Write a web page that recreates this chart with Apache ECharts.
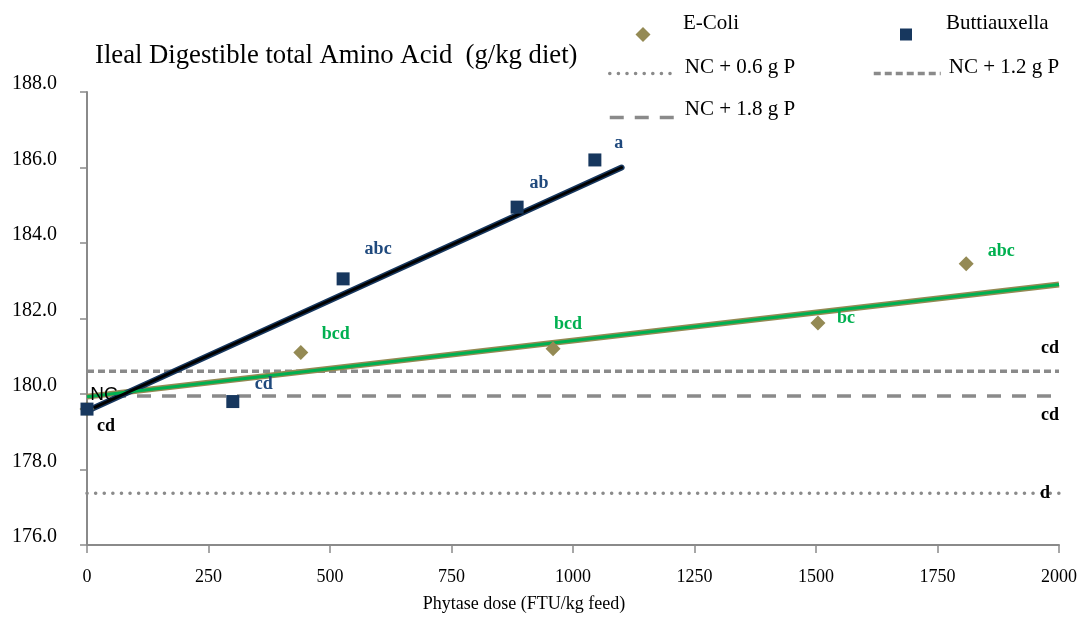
<!DOCTYPE html>
<html>
<head>
<meta charset="utf-8">
<script src="https://cdn.jsdelivr.net/npm/echarts@6/dist/echarts.min.js"></script>
<style>
  html, body { margin: 0; padding: 0; background: #fff; }
  #chart { width: 1083px; height: 617px; }
</style>
</head>
<body>
<div id="chart"></div>
<script>
// scatter points
const buttDose = [0, 300, 527, 885, 1045];
const buttValues = [179.6, 179.8, 183.05, 184.95, 186.2];
const buttLetters = ['cd', 'cd', 'abc', 'ab', 'a'];

const ecoliDose = [0, 440, 959, 1504, 1809];
const ecoliValues = [179.6, 181.1, 181.2, 181.88, 183.45];
const ecoliLetters = ['NC', 'bcd', 'bcd', 'bc', 'abc'];

// linear trend lines, start/end
const buttTrendDose = [0, 1100];
const buttTrendValues = [179.55, 186.0];
const ecoliTrendDose = [0, 2000];
const ecoliTrendValues = [179.93, 182.9];

// positive control reference levels
const refNames = ['NC + 0.6 g P', 'NC + 1.2 g P', 'NC + 1.8 g P'];
const refDose = [0, 2000];
const refValues = [177.37, 180.6, 179.95];
const refLetters = ['d', 'cd', 'cd'];

// label placement (pixels, relative to the point)
const buttLabelOffset = [[19, 17], [31, -17], [35, -30], [22, -24], [24, -17]];
const ecoliLabelOffset = [[17, -14], [35, -18], [15, -24], [28, -5], [35, -12]];
const refLabelOffset = [[-14, 0], [-9, -23], [-9, 19]];
const refDash = [[0.1, 8.5], [7, 4], [14, 11]];

const SERIF = 'Liberation Serif';
const NAVY = '#17375e';
const OLIVE = '#948a54';
const GREEN = '#00b050';
const GREY = '#8a8a8a';

function pairs(xs, ys) {
    return xs.map((x, i) => [x, ys[i]]);
}

const letterStyle = {
    show: true,
    position: 'inside',
    align: 'center',
    verticalAlign: 'middle',
    fontFamily: SERIF,
    fontWeight: 'bold',
    fontSize: 18,
};

let buttData = buttDose.map((x, i) => ({
    value: [x, buttValues[i]],
    label: Object.assign({}, letterStyle, {
        formatter: buttLetters[i],
        offset: buttLabelOffset[i],
        color: i === 0 ? '#000' : '#1f497d',
    }),
}));

let ecoliData = ecoliDose.map((x, i) => ({
    value: [x, ecoliValues[i]],
    label: Object.assign({}, letterStyle, {
        formatter: ecoliLetters[i],
        offset: ecoliLabelOffset[i],
        color: i === 0 ? '#000' : GREEN,
    }, i === 0 ? {fontFamily: 'Liberation Sans', fontWeight: 'normal', fontSize: 19} : {}),
}));

let refSeries = refNames.map((name, i) => ({
    name: name,
    type: 'line',
    data: pairs(refDose, [refValues[i], refValues[i]]),
    symbol: 'none',
    z: 1,
    lineStyle: {
        color: GREY,
        width: 3.5,
        type: refDash[i],
        cap: i === 0 ? 'round' : 'butt',
    },
    endLabel: {
        show: true,
        formatter: refLetters[i],
        distance: 0,
        align: 'center',
        verticalAlign: 'middle',
        offset: refLabelOffset[i],
        color: '#000',
        fontFamily: SERIF,
        fontWeight: 'bold',
        fontSize: 18,
    },
}));

// one legend per entry; text sits a little above its icon like in Excel
function legendAt(item, left, top, w, h, shift, padLeft) {
    return {
        data: [item],
        left: left,
        top: top,
        padding: 0,
        itemWidth: w,
        itemHeight: h,
        formatter: '{t|{name}}',
        textStyle: {
            color: '#000',
            rich: {
                t: {
                    fontFamily: SERIF,
                    fontSize: 21,
                    color: '#000',
                    padding: [0, 0, shift * 2, padLeft],
                },
            },
        },
    };
}

function lineItem(i) {
    return {
        name: refNames[i],
        itemStyle: {opacity: 0},
        lineStyle: {width: 3.5},
    };
}

let myChart = echarts.init(document.getElementById('chart'));
let option = {
    animation: false,
    title: {
        text: 'Ileal Digestible total Amino Acid  (g/kg diet)',
        left: 95,
        top: 42,
        padding: 0,
        textStyle: {
            fontFamily: SERIF,
            fontSize: 26.7,
            fontWeight: 'normal',
            color: '#000',
        },
    },
    legend: [
        legendAt({name: 'E-Coli', icon: 'diamond'}, 635.5, 13, 15, 15, 11, 27.5),
        legendAt({name: 'Buttiauxella', icon: 'rect'}, 900, 13, 12, 12, 11, 29),
        legendAt(lineItem(0), 608, 57, 67, 14, 6, 3),
        legendAt(lineItem(1), 872, 57, 67, 14, 6, 3),
        legendAt(lineItem(2), 608, 99, 67, 14, 8, 3),
    ],
    grid: {
        left: 87,
        right: 24,
        top: 92,
        bottom: 72,
        containLabel: false,
        outerBoundsMode: 'none',
    },
    xAxis: {
        type: 'value',
        min: 0,
        max: 2000,
        interval: 250,
        name: 'Phytase dose (FTU/kg feed)',
        nameLocation: 'middle',
        nameGap: 50,
        nameTextStyle: {
            fontFamily: SERIF,
            fontSize: 18,
            color: '#000',
            padding: [0, 98, 0, 0],
        },
        axisLine: {lineStyle: {color: GREY, width: 2}},
        axisTick: {show: true, length: 8, lineStyle: {color: GREY, width: 1.5}},
        axisLabel: {
            margin: 23,
            fontFamily: SERIF,
            fontSize: 18,
            color: '#000',
            formatter: v => String(v),
        },
        splitLine: {show: false},
    },
    yAxis: {
        type: 'value',
        min: 176,
        max: 188,
        interval: 2,
        axisLine: {show: true, lineStyle: {color: GREY, width: 2}},
        axisTick: {show: true, length: 7, lineStyle: {color: GREY, width: 1.5}},
        axisLabel: {
            margin: 30,
            fontFamily: SERIF,
            fontSize: 20,
            lineHeight: 16,
            color: '#000',
            verticalAlign: 'bottom',
            formatter: v => v.toFixed(1),
        },
        splitLine: {show: false},
    },
    series: refSeries.concat([
        {
            name: 'E-Coli trend outer',
            type: 'line',
            data: pairs(ecoliTrendDose, ecoliTrendValues),
            symbol: 'none',
            z: 2,
            lineStyle: {color: OLIVE, width: 6},
        },
        {
            name: 'E-Coli trend',
            type: 'line',
            data: pairs(ecoliTrendDose, ecoliTrendValues),
            symbol: 'none',
            z: 3,
            lineStyle: {color: GREEN, width: 3},
        },
        {
            name: 'Buttiauxella trend outer',
            type: 'line',
            data: pairs(buttTrendDose, buttTrendValues),
            symbol: 'none',
            z: 2,
            lineStyle: {color: NAVY, width: 6, cap: 'round'},
        },
        {
            name: 'Buttiauxella trend',
            type: 'line',
            data: pairs(buttTrendDose, buttTrendValues),
            symbol: 'none',
            z: 3,
            lineStyle: {color: '#000', width: 3, cap: 'round'},
        },
        {
            name: 'E-Coli',
            type: 'scatter',
            symbol: 'diamond',
            symbolSize: 15,
            z: 4,
            itemStyle: {color: OLIVE, opacity: 1},
            data: ecoliData,
        },
        {
            name: 'Buttiauxella',
            type: 'scatter',
            symbol: 'rect',
            symbolSize: 13,
            z: 5,
            itemStyle: {color: NAVY, opacity: 1},
            data: buttData,
        },
    ]),
};
myChart.setOption(option);
window.addEventListener('resize', () => {
    myChart.resize();
});
</script>
</body>
</html>
